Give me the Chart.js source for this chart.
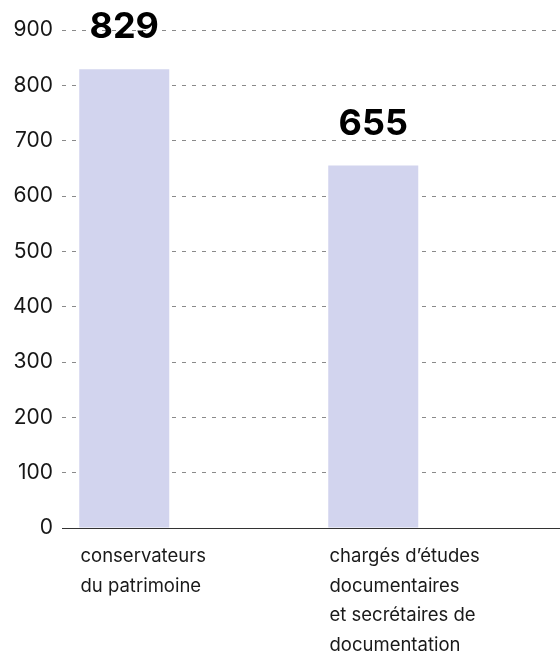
<!DOCTYPE html>
<html>
<head>
<meta charset="utf-8">
<script src="https://cdn.jsdelivr.net/npm/chart.js@4"></script>
<style>
html,body{margin:0;padding:0;background:#fff;overflow:hidden;}
#wrap{width:560px;height:652px;position:relative;}
</style>
</head>
<body>
<div id="wrap"><canvas id="c"></canvas></div>
<script>
const categories = [
  ["conservateurs", "du patrimoine"],
  ["chargés d’études", "documentaires", "et secrétaires de", "documentation"]
];
const values = [829, 655];
const yTicks = [0, 100, 200, 300, 400, 500, 600, 700, 800, 900];

const FONT = "Inter, 'Noto Sans', sans-serif";

const valueLabels = {
  id: 'valueLabels',
  afterDatasetsDraw(chart) {
    const ctx = chart.ctx;
    const meta = chart.getDatasetMeta(0);
    ctx.save();
    ctx.font = "bold 36px " + FONT;
    ctx.fillStyle = '#000';
    ctx.textAlign = 'center';
    ctx.textBaseline = 'alphabetic';
    meta.data.forEach((bar, i) => {
      ctx.fillText(String(values[i]), bar.x, bar.y - 31);
    });
    ctx.restore();
  }
};

new Chart(document.getElementById('c'), {
  type: 'bar',
  data: {
    labels: categories,
    datasets: [
      { data: values, backgroundColor: '#d2d4ee', borderWidth: 0,
        categoryPercentage: 1, barPercentage: 0.723 },
      { data: values.map(() => null), backgroundColor: 'rgba(0,0,0,0)',
        categoryPercentage: 1, barPercentage: 0.723 }
    ]
  },
  options: {
    responsive: true,
    maintainAspectRatio: false,
    animation: false,
    layout: { padding: { top: 30, right: 0, left: 0, bottom: 0 } },
    plugins: { legend: { display: false }, tooltip: { enabled: false } },
    scales: {
      x: {
        grid: { display: false, drawTicks: false },
        border: { display: true, color: '#333', width: 1 },
        ticks: {
          align: 'start',
          labelOffset: -106,
          padding: 14,
          color: '#1a1a1a',
          font: { family: FONT, size: 18.5, lineHeight: '29.5px' },
          maxRotation: 0, minRotation: 0, autoSkip: false
        },
        afterFit(scale) {
          scale.height = 124;
          scale.paddingLeft = 0; scale.paddingRight = 0;
        }
      },
      y: {
        min: 0, max: 900,
        afterBuildTicks(scale) { scale.ticks = yTicks.map(v => ({ value: v })); },
        grid: {
          drawTicks: false,
          color: ctx => ctx.tick && ctx.tick.value === 0 ? 'rgba(0,0,0,0)' : '#8a8a8a',
          lineWidth: 1
        },
        border: { display: false, dash: [4, 6] },
        ticks: {
          padding: 9,
          color: '#161616',
          font: { family: FONT, size: 21 }
        },
        afterFit(scale) {
          scale.width = 62;
          scale.paddingTop = 0; scale.paddingBottom = 0;
        }
      }
    }
  },
  plugins: [valueLabels]
});
</script>
</body>
</html>
